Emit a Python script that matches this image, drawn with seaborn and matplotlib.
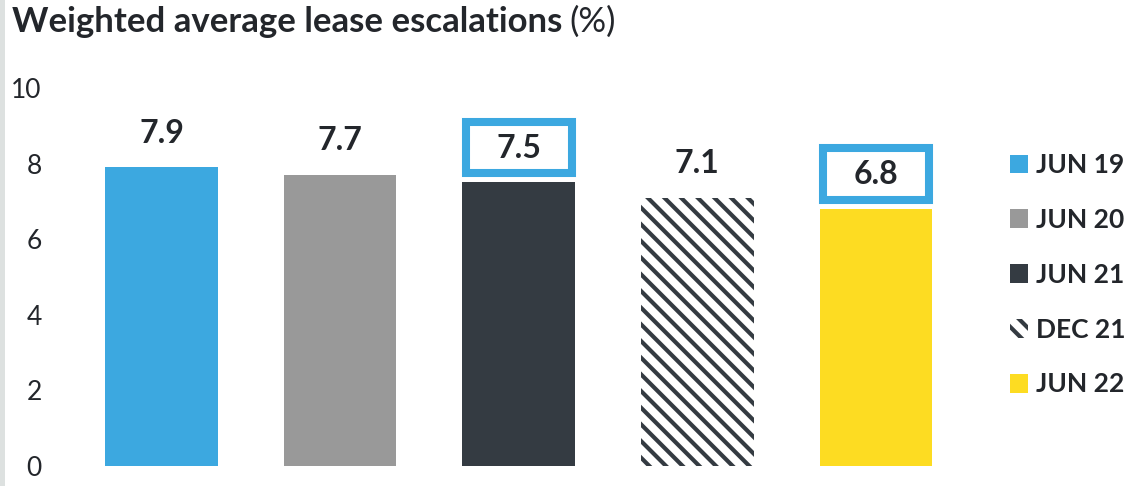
import matplotlib
matplotlib.use("Agg")
import matplotlib.pyplot as plt
from matplotlib.patches import Rectangle, Patch
import seaborn as sns

# Data
periods = ["JUN 19", "JUN 20", "JUN 21", "DEC 21", "JUN 22"]
escalations = [7.9, 7.7, 7.5, 7.1, 6.8]
boxed = ["JUN 21", "JUN 22"]
hatched = ["DEC 21"]
y_ticks = [0, 2, 4, 6, 8, 10]

colors = ["#3ca8e0", "#999999", "#343b42", "#ffffff", "#fddc22"]
dark = "#343b42"
box_blue = "#3ca8e0"
text_col = "#23262b"

sns.set_theme(style="white")
plt.rcParams["font.family"] = ["Lato", "DejaVu Sans"]
plt.rcParams["hatch.linewidth"] = 3.0

fig = plt.figure(figsize=(11.41, 4.86), dpi=100)
W, H = 1141, 486
ax = fig.add_axes([54.3 / W, 20 / H, 928.7 / W, 378 / H])

sns.barplot(x=periods, y=escalations, hue=periods, palette=colors,
            width=0.63, legend=False, ax=ax, saturation=1, linewidth=0)

for patch, p in zip(ax.patches, periods):
    if p in hatched:
        patch.set_facecolor("white")
        patch.set_edgecolor(dark)
        patch.set_hatch("\\\\")
        patch.set_linewidth(0)

ax.set_xlim(-0.6, 4.6)
ax.set_ylim(0, 10)
ax.set_yticks(y_ticks)
ax.set_yticklabels([str(t) for t in y_ticks], fontsize=19, color=text_col)
ax.tick_params(axis="y", length=0, pad=9)
ax.set_xticks([])
ax.set_xlabel("")
ax.set_ylabel("")
for s in ax.spines.values():
    s.set_visible(False)

# Value labels, some framed
for i, (p, v) in enumerate(zip(periods, escalations)):
    ax.text(i, v + 0.9, f"{v:.1f}", ha="center", va="center",
            fontsize=23, fontweight="bold", color=text_col)
    if p in boxed:
        ax.add_patch(Rectangle((i - 0.297, v + 0.25), 0.594, 1.36,
                               fill=False, edgecolor=box_blue, linewidth=5.8,
                               clip_on=False, joinstyle="miter"))

# Legend
handles = []
for p, c in zip(periods, colors):
    if p in hatched:
        handles.append(Patch(facecolor="white", edgecolor=dark, hatch="\\\\", linewidth=0))
    else:
        handles.append(Patch(facecolor=c, edgecolor="none"))
leg = fig.legend(handles, periods, loc="upper left",
                 bbox_to_anchor=(1010 / W, 1 - 153 / H), frameon=False,
                 prop={"family": ["Lato", "DejaVu Sans"], "weight": "bold", "size": 19},
                 handlelength=0.7, handleheight=0.7, handletextpad=0.3,
                 labelspacing=1.17, borderpad=0, borderaxespad=0)
for t in leg.get_texts():
    t.set_color(text_col)

# Title: bold part followed by regular unit
t1 = fig.text(12 / W, 1 - 22 / H, "Weighted average lease escalations",
              fontsize=25, fontweight="bold", color=text_col, va="center", ha="left")
ax.annotate("(%)", xy=(1, 0), xycoords=t1, xytext=(5, 0), textcoords="offset points",
            fontsize=25, color=text_col, va="bottom", ha="left", annotation_clip=False)

# Thin grey strip along the left edge
fig.patches.append(Rectangle((0, 0), 5 / W, 1, transform=fig.transFigure,
                             facecolor="#dde1e0", edgecolor="none", zorder=0))

fig.savefig("out.png", dpi=100, facecolor="white")
